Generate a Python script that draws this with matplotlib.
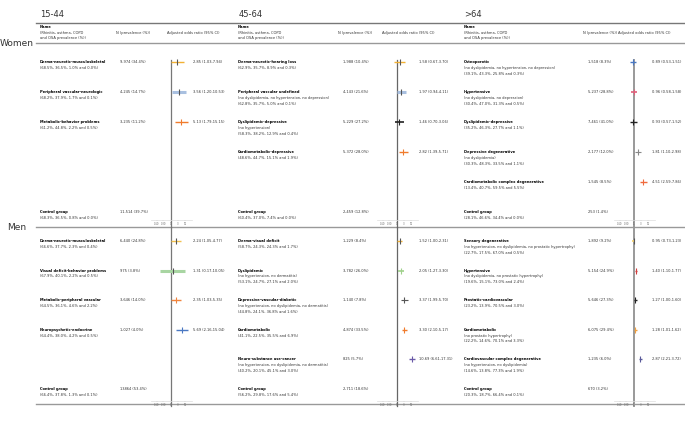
import matplotlib.pyplot as plt
from matplotlib.ticker import NullLocator

plt.rcParams['font.family'] = ['DejaVu Sans']

W, H = 685, 425

age_groups = ['15-44', '45-64', '>64']
sexes = ['Women', 'Men']

# ---- 15-44 ----
w1544_names = ['Derma-neurotic-musculoskeletal', 'Peripheral vascular-neurologic',
               'Metabolic-behavior problems', 'Control group']
w1544_notes = [['(68.5%, 36.5%, 1.0% and 0.0%)'], ['(68.2%, 37.9%, 1.7% and 0.1%)'],
               ['(61.2%, 44.8%, 2.2% and 0.5%)'], ['(68.3%, 36.5%, 0.8% and 0.0%)']]
w1544_n = ['9,974 (34.4%)', '4,245 (14.7%)', '3,235 (11.2%)', '11,514 (39.7%)']
w1544_or = [2.85, 3.56, 5.13]
w1544_lo = [1.03, 1.20, 1.79]
w1544_hi = [7.94, 10.53, 15.15]

m1544_names = ['Derma-neurotic-musculoskeletal', 'Visual deficit-behavior problems',
               'Metabolic-peripheral vascular', 'Neuropsychetic-endocrine', 'Control group']
m1544_notes = [['(66.6%, 37.7%, 2.3% and 0.4%)'], ['(67.9%, 40.1%, 2.2% and 0.5%)'],
               ['(64.5%, 36.1%, 4.6% and 2.2%)'], ['(64.4%, 38.0%, 4.2% and 0.5%)'],
               ['(66.4%, 37.8%, 1.3% and 0.1%)']]
m1544_n = ['6,440 (24.8%)', '975 (3.8%)', '3,646 (14.0%)', '1,027 (4.0%)', '13864 (53.4%)']
m1544_or = [2.24, 1.31, 2.35, 5.69]
m1544_lo = [1.05, 0.17, 1.03, 2.16]
m1544_hi = [4.77, 10.05, 5.35, 15.04]

# ---- 45-64 ----
w4564_names = ['Derma-neurotic-hearing loss', 'Peripheral vascular undefined',
               'Dyslipidemic-depressive', 'Cardiometabolic-depressive', 'Control group']
w4564_notes = [['(62.9%, 35.7%, 8.9% and 0.3%)'],
               ['(no dyslipidemia, no hypertension, no depression)', '(62.8%, 35.7%, 5.0% and 0.1%)'],
               ['(no hypertension)', '(58.3%, 38.2%, 12.9% and 0.4%)'],
               ['(48.6%, 44.7%, 15.1% and 1.9%)'],
               ['(60.4%, 37.0%, 7.4% and 0.0%)']]
w4564_n = ['1,988 (10.4%)', '4,143 (21.6%)', '5,229 (27.2%)', '5,372 (28.0%)', '2,459 (12.8%)']
w4564_or = [1.58, 1.97, 1.46, 2.82]
w4564_lo = [0.67, 0.94, 0.70, 1.39]
w4564_hi = [3.70, 4.11, 3.06, 5.71]

m4564_names = ['Derma-visual deficit', 'Dyslipidemic', 'Depressive-vascular-diabetic',
               'Cardiometabolic', 'Neuro-substance use-cancer', 'Control group']
m4564_notes = [['(58.7%, 24.3%, 24.3% and 1.7%)'],
               ['(no hypertension, no dermatitis)', '(53.1%, 24.7%, 27.1% and 2.0%)'],
               ['(no hypertension, no dyslipidemia, no dermatitis)', '(44.8%, 24.1%, 36.8% and 1.6%)'],
               ['(41.1%, 22.5%, 35.5% and 6.9%)'],
               ['(no hypertension, no dyslipidemia, no dermatitis)', '(40.2%, 20.1%, 45.1% and 3.0%)'],
               ['(56.2%, 29.8%, 17.6% and 5.4%)']]
m4564_n = ['1,229 (8.4%)', '3,782 (26.0%)', '1,140 (7.8%)', '4,874 (33.5%)', '825 (5.7%)', '2,711 (18.6%)']
m4564_or = [1.52, 2.05, 3.37, 3.30, 10.69]
m4564_lo = [1.00, 1.27, 1.99, 2.10, 6.61]
m4564_hi = [2.31, 3.30, 5.70, 5.17, 17.31]

# ---- >64 ----
w64_names = ['Osteoporotic', 'Hypertensive', 'Dyslipidemic-depressive', 'Depressive degenerative',
             'Cardiometabolic complex degenerative', 'Control group']
w64_notes = [['(no dyslipidemia, no hypertension, no depression)', '(39.1%, 43.3%, 25.8% and 0.3%)'],
             ['(no dyslipidemia, no depression)', '(30.4%, 47.0%, 31.3% and 0.5%)'],
             ['(35.2%, 46.3%, 27.7% and 1.1%)'],
             ['(no dyslipidemia)', '(30.3%, 48.3%, 33.5% and 1.1%)'],
             ['(13.4%, 40.7%, 59.5% and 5.5%)'],
             ['(28.1%, 46.6%, 34.4% and 0.0%)']]
w64_n = ['1,518 (8.3%)', '5,237 (28.8%)', '7,461 (41.0%)', '2,177 (12.0%)', '1,545 (8.5%)', '253 (1.4%)']
w64_or = [0.89, 0.96, 0.93, 1.81, 4.51]
w64_lo = [0.53, 0.58, 0.57, 1.10, 2.59]
w64_hi = [1.51, 1.58, 1.52, 2.98, 7.86]

m64_names = ['Sensory degenerative', 'Hypertensive', 'Prostatic-cardiovascular', 'Cardiometabolic',
             'Cardiovascular complex degenerative', 'Control group']
m64_notes = [['(no hypertension, no dyslipidemia, no prostatic hypertrophy)', '(22.7%, 17.5%, 67.0% and 0.5%)'],
             ['(no dyslipidemia, no prostatic hypertrophy)', '(19.6%, 15.1%, 73.0% and 2.4%)'],
             ['(23.2%, 13.9%, 70.5% and 3.0%)'],
             ['(no prostatic hypertrophy)', '(22.2%, 14.6%, 70.1% and 3.3%)'],
             ['(no hypertension, no dyslipidemia)', '(14.6%, 13.8%, 77.3% and 1.9%)'],
             ['(20.3%, 18.7%, 66.4% and 0.1%)']]
m64_n = ['1,892 (9.2%)', '5,154 (24.9%)', '5,646 (27.3%)', '6,075 (29.4%)', '1,235 (6.0%)', '670 (3.2%)']
m64_or = [0.95, 1.40, 1.27, 1.28, 2.87]
m64_lo = [0.73, 1.10, 1.00, 1.01, 2.21]
m64_hi = [1.23, 1.77, 1.60, 1.62, 3.72]

tick_vals = [0.1, 0.3, 1, 3, 10]
tick_labels = ['0.10', '0.30', '1', '3', '10']

# colours / widths for the CI lines
w1544_style = [('#f2b134', 1.0), ('#a9c0e0', 2.2), ('#f07b2c', 1.0)]
m1544_style = [('#f2c14e', 1.0), ('#a8d5a2', 2.2), ('#f0843c', 1.0), ('#4a78c2', 1.0)]
w4564_style = [('#f2b134', 1.0), ('#a9c0e0', 2.2), ('#222222', 1.2), ('#f07b2c', 1.0)]
m4564_style = [('#f2b134', 1.0), ('#9fd18b', 1.2), ('#555555', 0.8), ('#f07b2c', 1.0), ('#6a5aa8', 1.0)]
w64_style = [('#4a78c2', 1.0), ('#e0607a', 1.2), ('#222222', 1.0), ('#888888', 0.8), ('#f06a3c', 1.0)]
m64_style = [('#f2cf6a', 1.2), ('#d23c3c', 1.0), ('#222222', 1.0), ('#f0a040', 1.0), ('#5a5a9a', 1.0)]

panels = [
    [(w1544_names, w1544_notes, w1544_n, w1544_or, w1544_lo, w1544_hi, w1544_style),
     (m1544_names, m1544_notes, m1544_n, m1544_or, m1544_lo, m1544_hi, m1544_style)],
    [(w4564_names, w4564_notes, w4564_n, w4564_or, w4564_lo, w4564_hi, w4564_style),
     (m4564_names, m4564_notes, m4564_n, m4564_or, m4564_lo, m4564_hi, m4564_style)],
    [(w64_names, w64_notes, w64_n, w64_or, w64_lo, w64_hi, w64_style),
     (m64_names, m64_notes, m64_n, m64_or, m64_lo, m64_hi, m64_style)],
]

# layout in pixels: title x, name x, N x, N header x, OR header x, OR text x, axis left, axis right
cols = [
    dict(tx=40, nm=40, nx=120, hn=116, ho=167, otx=193, a0=151, a1=192, rc='#777777', rw=0.9),
    dict(tx=239, nm=238, nx=343, hn=338, ho=382, otx=419, a0=377, a1=418, rc='#666666', rw=0.9),
    dict(tx=464, nm=464, nx=588, hn=583, ho=618, otx=652, a0=614, a1=655, rc='#999999', rw=1.4),
]
# per section: first row y, row step, axis top, axis bottom, ref line top/bottom
secs = [
    dict(y0=62, dy=30.0, top=50, bot=220, l0=60, l1=227, lab=43),
    dict(y0=241, dy=29.6, top=229, bot=401, l0=227, l1=406, lab=227),
]
XLIM = (0.04, 30)

fig = plt.figure(figsize=(6.85, 4.25), dpi=100)
bg = fig.add_axes([0, 0, 1, 1])
bg.set_xlim(0, W)
bg.set_ylim(H, 0)
bg.axis('off')

# rules
bg.plot([36, W], [23, 23], color='#777777', lw=1.0)
bg.plot([36, W], [43, 43], color='#999999', lw=1.0)
bg.plot([36, W], [227, 227], color='#999999', lw=1.0)
bg.plot([36, W], [404, 404], color='#999999', lw=1.0)

for s, sec in zip(sexes, secs):
    bg.text(17, sec['lab'], s, fontsize=6.5, ha='center', va='center', color='#333333')

fs = 2.6
for ci, (grp, col) in enumerate(zip(age_groups, cols)):
    bg.text(col['tx'], 14.5, grp, fontsize=6, va='center', color='#333333')
    bg.text(col['nm'], 27, 'Name', fontsize=fs, fontweight='bold', va='center')
    bg.text(col['nm'], 32.5, '(Rhinitis, asthma, COPD', fontsize=fs, va='center', color='#333333')
    bg.text(col['nm'], 38, 'and OSA prevalence (%))', fontsize=fs, va='center', color='#333333')
    bg.text(col['hn'], 32.5, 'N (prevalence (%))', fontsize=fs, va='center', color='#333333')
    bg.text(col['ho'], 32.5, 'Adjusted odds ratio (95% CI)', fontsize=fs, va='center', color='#333333')

    for si, sec in enumerate(secs):
        names, notes, ns, ors, los, his, style = panels[ci][si]
        slots = list(range(len(names) - 1)) + [5]
        for k, (nm, nt, n, slot) in enumerate(zip(names, notes, ns, slots)):
            y = sec['y0'] + slot * sec['dy']
            bg.text(col['nm'], y, nm, fontsize=fs, fontweight='bold', va='center')
            for j, line in enumerate(nt):
                bg.text(col['nm'], y + 5.8 * (j + 1), line, fontsize=fs, va='center', color='#333333')
            bg.text(col['nx'], y, n, fontsize=fs, va='center', color='#333333')
            if k < len(ors):
                bg.text(col['otx'], y, f'{ors[k]:.2f} ({los[k]:.2f}-{his[k]:.2f})',
                        fontsize=fs, va='center', color='#333333')

        # forest axes
        ax = fig.add_axes([col['a0'] / W, 1 - sec['bot'] / H,
                           (col['a1'] - col['a0']) / W, (sec['bot'] - sec['top']) / H])
        ax.patch.set_visible(False)
        ax.set_xscale('log')
        ax.set_xlim(*XLIM)
        ax.set_ylim((sec['bot'] - sec['y0']) / sec['dy'], (sec['top'] - sec['y0']) / sec['dy'])
        hpx = sec['bot'] - sec['top']
        ax.axvline(1, ymin=(sec['bot'] - sec['l1']) / hpx, ymax=(sec['bot'] - sec['l0']) / hpx,
                   color=col['rc'], lw=col['rw'], clip_on=False, zorder=1)
        for k, (o, lo, hi) in enumerate(zip(ors, los, his)):
            c, lw = style[k]
            ax.hlines(k, lo, hi, color=c, lw=lw, zorder=3)
            tc = '#555555' if lw > 1.5 or c in ('#f2b134', '#f2c14e', '#f2cf6a') else c
            ax.plot([o], [k], marker='|', ms=4.5, mew=0.8, color=tc, zorder=4)
        for sp in ('left', 'right', 'top'):
            ax.spines[sp].set_visible(False)
        ax.spines['bottom'].set_color('#dddddd')
        ax.spines['bottom'].set_linewidth(0.5)
        ax.set_yticks([])
        ax.set_xticks(tick_vals)
        ax.set_xticklabels(tick_labels)
        ax.xaxis.set_minor_locator(NullLocator())
        ax.tick_params(axis='x', length=1, width=0.3, pad=0.5, labelsize=1.8,
                       colors='#999999', labelcolor='#666666')

fig.savefig('out.png', dpi=100)
